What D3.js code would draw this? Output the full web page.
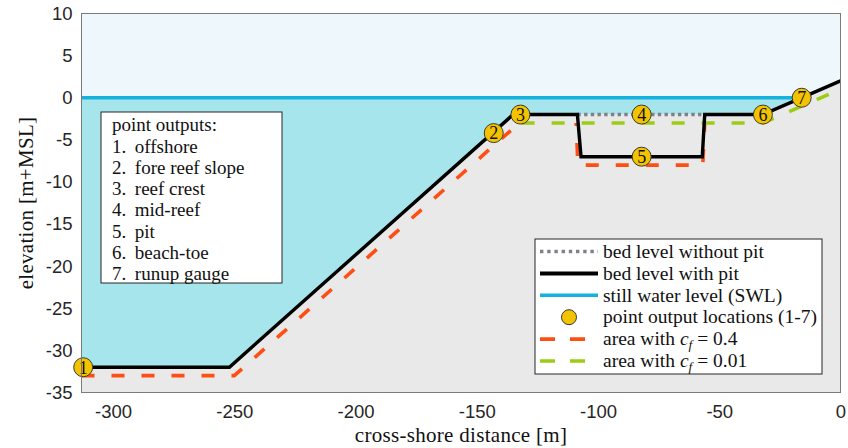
<!DOCTYPE html>
<html>
<head>
<meta charset="utf-8">
<script src="https://cdn.jsdelivr.net/npm/d3@7"></script>
<style>
  html, body { margin: 0; padding: 0; background: #ffffff; }
  svg { display: block; }
  .tick text { font-family: "Liberation Sans", Arial, sans-serif; font-size: 18.5px; fill: #262626; }
  .serif { font-family: "Liberation Serif", "Times New Roman", serif; fill: #111; }
</style>
</head>
<body>
<svg id="chart" width="848" height="448"></svg>
<script>
// ---- data -------------------------------------------------------------
// reef profile without the pit (cross-shore distance [m], elevation [m+MSL])
const profileX = [-313, -252, -135, -32, 0];
const profileZ = [-32, -32, -2, -2, 2];

// bed level with the pit dug into the reef flat
const bedPitX = [-313, -252, -135, -108.5, -107, -57, -56, -32, 0];
const bedPitZ = [-32, -32, -2, -2, -7, -7, -2, -2, 2];

// original bed over the pit (without pit)
const noPitX = [-108.5, -56];
const noPitZ = [-2, -2];

// still water level
const swl = 0;

// friction areas
const cf04OffshoreX = [-313, -250, -136];
const cf04OffshoreZ = [-33, -33, -3.9];
const cf04PitX = [-109, -108.3, -56.8, -56];
const cf04PitZ = [-3, -8, -8, -3];
const cf001X = [-135, -32, 0];
const cf001Z = [-3, -3, 1];

// point output locations 1-7
const pointIds = [1, 2, 3, 4, 5, 6, 7];
const pointX = [-312.3, -143, -132, -82, -82, -32, -16];
const pointZ = [-32, -4.2, -2, -2, -7, -2, 0];

const pointNames = ["offshore", "fore reef slope", "reef crest", "mid-reef",
                    "pit", "beach-toe", "runup gauge"];

const xTicks = [-300, -250, -200, -150, -100, -50, 0];
const yTicks = [10, 5, 0, -5, -10, -15, -20, -25, -30, -35];

// ---- colours ----------------------------------------------------------
const C = {
  sky: "#eef8fc", water: "#a6e5ec", ground: "#e9e9e9",
  swl: "#16b2dd", bed: "#000000", noPit: "#80808a",
  cf04: "#ff4e14", cf001: "#9ccc14", point: "#f4c300"
};

// ---- scales -----------------------------------------------------------
const svg = d3.select("#chart");
const x = d3.scaleLinear().domain([-313, 0]).range([81.5, 840.5]);
const y = d3.scaleLinear().domain([-35, 10]).range([392.5, 13.5]);
const [x0, x1] = x.domain();
const [y0, y1] = y.domain();

const toPts = (xs, zs) => xs.map((v, i) => [v, zs[i]]);
const line = d3.line().x(d => x(d[0])).y(d => y(d[1]));
const tickFmt = d => String(d);   // plain hyphen for negatives

// where the profile crosses the still water level
function shoreX() {
  for (let i = 1; i < profileX.length; i++) {
    if (profileZ[i - 1] <= swl && profileZ[i] >= swl && profileZ[i] !== profileZ[i - 1]) {
      const t = (swl - profileZ[i - 1]) / (profileZ[i] - profileZ[i - 1]);
      return profileX[i - 1] + t * (profileX[i] - profileX[i - 1]);
    }
  }
  return x1;
}
const xs = shoreX();

// ---- background areas -------------------------------------------------
svg.append("rect")
  .attr("x", x(x0)).attr("y", y(y1))
  .attr("width", x(x1) - x(x0)).attr("height", y(y0) - y(y1))
  .attr("fill", C.sky);

// water column between the bed and SWL
const wetPts = toPts(profileX, profileZ).filter(d => d[0] < xs);
const waterPoly = [[x0, swl], ...wetPts, [xs, swl]];
svg.append("path")
  .attr("d", line(waterPoly) + "Z")
  .attr("fill", C.water);

// ground below the bed
const groundPoly = [...toPts(profileX, profileZ), [x1, y0], [x0, y0]];
svg.append("path")
  .attr("d", line(groundPoly) + "Z")
  .attr("fill", C.ground);

// ---- axes -------------------------------------------------------------
const gx = svg.append("g")
  .attr("transform", `translate(0,${y(y0)})`)
  .call(d3.axisBottom(x).tickValues(xTicks).tickSize(0).tickPadding(9)
        .tickFormat(tickFmt));
gx.select(".domain").remove();
gx.selectAll("text").attr("dy", "0.9em");

const gy = svg.append("g")
  .attr("transform", `translate(${x(x0)},0)`)
  .call(d3.axisLeft(y).tickValues(yTicks).tickSize(0).tickPadding(9)
        .tickFormat(tickFmt));
gy.select(".domain").remove();

// ---- lines ------------------------------------------------------------
svg.append("path")
  .attr("d", line([[x0, swl], [xs, swl]]))
  .attr("fill", "none").attr("stroke", C.swl).attr("stroke-width", 3.5);

const drawLine = (pts, color, width, dash, offset) => svg.append("path")
  .attr("d", line(pts))
  .attr("fill", "none")
  .attr("stroke", color)
  .attr("stroke-width", width)
  .attr("stroke-dasharray", dash || null)
  .attr("stroke-dashoffset", offset || 0)
  .attr("stroke-linejoin", "miter");

drawLine(toPts(cf04OffshoreX, cf04OffshoreZ), C.cf04, 3.6, "13,17");
drawLine(toPts(cf04PitX, cf04PitZ), C.cf04, 3.6, "13,17", 10);
drawLine(toPts(cf001X, cf001Z), C.cf001, 3.6, "13,17", 21.5);
drawLine(toPts(noPitX, noPitZ), C.noPit, 3.4, "3.4,3.3");
drawLine(toPts(bedPitX, bedPitZ), C.bed, 3.4);

// ---- point output markers --------------------------------------------
const pts = svg.append("g").selectAll("g")
  .data(pointIds.map((id, i) => ({ id, x: pointX[i], z: pointZ[i] })))
  .join("g")
  .attr("transform", d => `translate(${x(d.x)},${y(d.z)})`);
pts.append("circle")
  .attr("r", 9.5).attr("fill", C.point)
  .attr("stroke", "#3a3a3a").attr("stroke-width", 1);
pts.append("text")
  .attr("class", "serif")
  .attr("text-anchor", "middle").attr("dy", "0.35em")
  .attr("font-size", 18)
  .text(d => d.id);

// ---- point list box ---------------------------------------------------
const list = svg.append("g").attr("transform", "translate(101,112)");
list.append("rect")
  .attr("width", 181).attr("height", 171)
  .attr("fill", "#ffffff").attr("stroke", "#262626").attr("stroke-width", 1);
const listText = list.append("text")
  .attr("class", "serif").attr("font-size", 19);
listText.append("tspan").attr("x", 11).attr("y", 19).text("point outputs:");
pointNames.forEach((n, i) => {
  listText.append("tspan").attr("x", 11).attr("y", 40.5 + i * 21.3)
    .text(`${pointIds[i]}.\u00a0\u2009${n}`);
});

// ---- legend -----------------------------------------------------------
const lg = svg.append("g").attr("transform", "translate(535,239)");
lg.append("rect")
  .attr("width", 287).attr("height", 135)
  .attr("fill", "#ffffff").attr("stroke", "#262626").attr("stroke-width", 1);

const legendItems = [
  { type: "line", color: C.noPit, width: 3.4, dash: "3.4,3.8", label: ["bed level without pit"] },
  { type: "line", color: C.bed, width: 4, dash: null, label: ["bed level with pit"] },
  { type: "line", color: C.swl, width: 3.5, dash: null, label: ["still water level (SWL)"] },
  { type: "point", label: ["point output locations (1-7)"] },
  { type: "line", color: C.cf04, width: 3.6, dash: "15,15", label: ["area with ", "c", "f", " = 0.4"] },
  { type: "line", color: C.cf001, width: 3.6, dash: "15,15", label: ["area with ", "c", "f", " = 0.01"] }
];
legendItems.forEach((it, i) => {
  const cy = 12.5 + i * 21.9;
  if (it.type === "line") {
    lg.append("line")
      .attr("x1", 5).attr("x2", 63).attr("y1", cy).attr("y2", cy)
      .attr("stroke", it.color).attr("stroke-width", it.width)
      .attr("stroke-dasharray", it.dash);
  } else {
    lg.append("circle").attr("cx", 34).attr("cy", cy).attr("r", 7.5)
      .attr("fill", C.point).attr("stroke", "#3a3a3a").attr("stroke-width", 1);
  }
  const t = lg.append("text").attr("class", "serif").attr("font-size", 19.5)
    .attr("x", 68).attr("y", cy).attr("dy", "0.32em");
  if (it.label.length === 1) {
    t.text(it.label[0]);
  } else {
    t.append("tspan").text(it.label[0]);
    t.append("tspan").attr("font-style", "italic").text(it.label[1]);
    t.append("tspan").attr("font-style", "italic").attr("font-size", 13.5)
      .attr("dy", 4).text(it.label[2]);
    t.append("tspan").attr("dy", -4).text(it.label[3].replace(" = ", "\u00a0=\u00a0"));
  }
});

// ---- frame and axis titles -------------------------------------------
svg.append("rect")
  .attr("x", x(x0)).attr("y", y(y1))
  .attr("width", x(x1) - x(x0)).attr("height", y(y0) - y(y1))
  .attr("fill", "none").attr("stroke", "#7a7a7a").attr("stroke-width", 1);

svg.append("text").attr("class", "serif")
  .attr("font-size", 21).attr("fill", "#262626")
  .attr("letter-spacing", 0.3)
  .attr("text-anchor", "middle")
  .attr("x", (x(x0) + x(x1)) / 2).attr("y", 442)
  .text("cross-shore distance [m]");

svg.append("text").attr("class", "serif")
  .attr("font-size", 21).attr("fill", "#262626")
  .attr("letter-spacing", 0.3)
  .attr("text-anchor", "middle")
  .attr("transform", `translate(33,${(y(y0) + y(y1)) / 2}) rotate(-90)`)
  .text("elevation [m+MSL]");
</script>
</body>
</html>
